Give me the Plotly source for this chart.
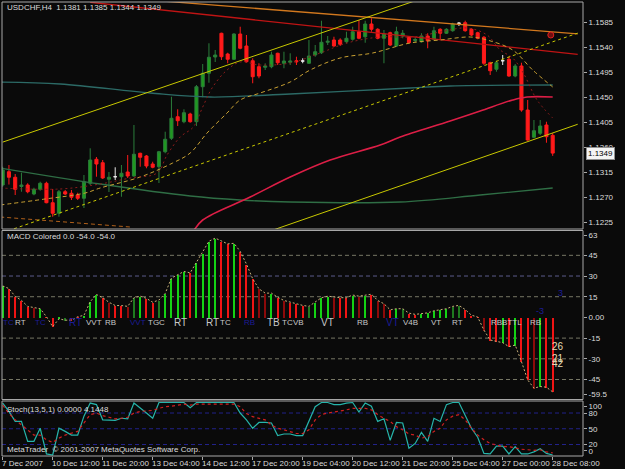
import plotly.graph_objects as go

# ---------------- data ----------------
symbol = "USDCHF,H4"
x_tick_labels = ["7 Dec 2007", "10 Dec 12:00", "11 Dec 20:00", "13 Dec 04:00", "14 Dec 12:00",
                 "17 Dec 20:00", "19 Dec 04:00", "20 Dec 12:00", "21 Dec 20:00", "25 Dec 04:00",
                 "27 Dec 00:00", "28 Dec 08:00"]
bars_per_label = 8

open_ = [1.12916, 1.13155, 1.13055, 1.12889, 1.12916, 1.12754, 1.12839, 1.12947, 1.12597, 1.12407,
         1.12795, 1.12767, 1.12736, 1.12677, 1.12947, 1.13379, 1.13317, 1.13019, 1.13065, 1.13065,
         1.13150, 1.13078, 1.13487, 1.13438, 1.13294, 1.13245, 1.13515, 1.13757, 1.14145, 1.14055,
         1.14194, 1.14055, 1.14685, 1.14927, 1.15220, 1.15647, 1.15274, 1.15179, 1.15634, 1.15418,
         1.15153, 1.15045, 1.15035, 1.15045, 1.15287, 1.15107, 1.15125, 1.15153, 1.15148, 1.15107,
         1.15256, 1.15297, 1.15485, 1.15526, 1.15526, 1.15495, 1.15539, 1.15675, 1.15585, 1.15814,
         1.15719, 1.15557, 1.15657, 1.15418, 1.15598, 1.15585, 1.15517, 1.15495, 1.15598, 1.15539,
         1.15719, 1.15647, 1.15693, 1.15827, 1.15837, 1.15719, 1.15657, 1.15575, 1.15117, 1.14999,
         1.15153, 1.15179, 1.14878, 1.15058, 1.14266, 1.13775, 1.13847, 1.13996, 1.1381]
high_ = [1.13245, 1.13276, 1.13114, 1.13137, 1.12947, 1.12867, 1.12975, 1.12975, 1.12844, 1.12826,
         1.12826, 1.12826, 1.12777, 1.13096, 1.13577, 1.13420, 1.13366, 1.13150, 1.13235, 1.13276,
         1.13456, 1.13996, 1.13497, 1.13456, 1.13335, 1.13530, 1.13875, 1.14505, 1.14279, 1.14279,
         1.14217, 1.14716, 1.15094, 1.15467, 1.15346, 1.15657, 1.15297, 1.15647, 1.15765, 1.15616,
         1.15197, 1.15107, 1.15107, 1.15315, 1.15297, 1.15315, 1.15287, 1.15225, 1.15197, 1.15526,
         1.15436, 1.15873, 1.15598, 1.15585, 1.15557, 1.15675, 1.15765, 1.15886, 1.15873, 1.15917,
         1.15737, 1.15706, 1.15675, 1.15765, 1.15706, 1.15598, 1.15574, 1.15647, 1.15647, 1.15765,
         1.15737, 1.15737, 1.15837, 1.15850, 1.15873, 1.15737, 1.15675, 1.15598, 1.15135, 1.15153,
         1.15256, 1.15225, 1.15094, 1.15117, 1.14446, 1.14086, 1.14086, 1.14055, 1.1385]
low_ = [1.12885, 1.12924, 1.12736, 1.12795, 1.12767, 1.12731, 1.12813, 1.12587, 1.12345, 1.12345,
        1.12736, 1.12646, 1.12646, 1.12502, 1.12916, 1.13065, 1.13024, 1.12790, 1.13006, 1.12705,
        1.13042, 1.13065, 1.13245, 1.13217, 1.13217, 1.12952, 1.13487, 1.13726, 1.13978, 1.14027,
        1.14037, 1.13978, 1.14495, 1.14757, 1.15130, 1.15166, 1.15107, 1.15166, 1.15359, 1.15117,
        1.14747, 1.14837, 1.14986, 1.15017, 1.15076, 1.15017, 1.15076, 1.15076, 1.15107, 1.15094,
        1.15225, 1.15274, 1.15436, 1.15405, 1.15418, 1.15467, 1.15513, 1.15539, 1.15477, 1.15675,
        1.15539, 1.15107, 1.15418, 1.15405, 1.15557, 1.15467, 1.15477, 1.15477, 1.15377, 1.15526,
        1.15526, 1.15634, 1.15675, 1.15778, 1.15675, 1.15598, 1.15539, 1.15076, 1.14896, 1.14955,
        1.15076, 1.14865, 1.14855, 1.14235, 1.13713, 1.13757, 1.13816, 1.13677, 1.1344]
close_ = [1.13186, 1.13055, 1.12838, 1.12916, 1.12795, 1.12839, 1.12947, 1.12597, 1.12407, 1.12795,
          1.12754, 1.12695, 1.12677, 1.12975, 1.13366, 1.13294, 1.13042, 1.13055, 1.13065, 1.13127,
          1.13078, 1.13469, 1.13415, 1.13258, 1.13235, 1.13515, 1.13739, 1.14117, 1.14073, 1.14217,
          1.14055, 1.14685, 1.14927, 1.15215, 1.15256, 1.15225, 1.15179, 1.15634, 1.15377, 1.15135,
          1.14865, 1.14878, 1.15058, 1.15256, 1.15117, 1.15148, 1.15148, 1.15135, 1.15148, 1.15238,
          1.15315, 1.15485, 1.15503, 1.15418, 1.15449, 1.15557, 1.15675, 1.15557, 1.15814, 1.15719,
          1.15557, 1.15634, 1.15436, 1.15675, 1.15647, 1.15477, 1.15535, 1.15598, 1.15513, 1.15693,
          1.15647, 1.15719, 1.15814, 1.15827, 1.15693, 1.15616, 1.15557, 1.15107, 1.14973, 1.15117,
          1.15153, 1.14878, 1.15058, 1.14266, 1.13726, 1.13893, 1.13978, 1.13785, 1.1349]

# indicator lines on the price chart: (bar index, price) control points
chan_upper_bar = [0, 92];      chan_upper_px = [1.13688, 1.17234]
chan_mid_bar = [0, 92];        chan_mid_px = [1.12057, 1.15650]
chan_lower_bar = [40, 92];     chan_lower_px = [1.11978, 1.14009]
orange_tl_bar = [20, 92];      orange_tl_px = [1.16277, 1.15638]
red_tl_bar = [14, 92];         red_tl_px = [1.16205, 1.15267]
teal_ma_bar = [-0.4, 9.2, 23.6, 33.2, 46, 65.2, 71.6, 88]
teal_ma_px = [1.14770, 1.14734, 1.14572, 1.14500, 1.14554, 1.14662, 1.14698, 1.14716]
green_ma_bar = [-0.4, 15.6, 30, 38, 46, 63.6, 76.4, 88]
green_ma_px = [1.13222, 1.12934, 1.12718, 1.12646, 1.12610, 1.12610, 1.12736, 1.12862]
crimson_ma_bar = [30.5, 32, 39.6, 46, 52.4, 60.4, 63.6, 71.6, 76.4, 81.6, 83.9, 88]
crimson_ma_px = [1.12080, 1.12286, 1.12700, 1.13060, 1.13366, 1.13636, 1.13780, 1.14068,
                 1.14248, 1.14446, 1.14500, 1.14500]
gold_ma_bar = [-0.4, 6.8, 13.2, 15.6, 22, 27.2, 30, 32.7, 35.9, 38, 41.2, 46, 49.2, 54, 59.2,
               65.2, 70, 74.8, 77.5, 81.6, 84.8, 88]
gold_ma_px = [1.12556, 1.12664, 1.12772, 1.12862, 1.13060, 1.13312, 1.13492, 1.13852, 1.14212,
              1.14446, 1.14572, 1.14770, 1.14986, 1.15202, 1.15292, 1.15472, 1.15526, 1.15580,
              1.15526, 1.15346, 1.14986, 1.14680]
fast_ma_bar = [-0.4, 9.2, 15.6, 20.4, 24.7, 26.3, 28.4, 30.5, 32.0, 33.6, 35.9, 38.0, 41.2, 46.0,
               50.8, 55.1, 60.4, 65.6, 70.0, 74.3, 77.5, 79.6, 81.6, 83.3, 85.5, 88.0]
fast_ma_px = [1.12862, 1.12844, 1.12934, 1.13042, 1.13132, 1.13456, 1.13780, 1.13960, 1.14320,
              1.14680, 1.14986, 1.15130, 1.15076, 1.15112, 1.15292, 1.15472, 1.15580, 1.15580,
              1.15670, 1.15742, 1.15616, 1.15346, 1.15202, 1.14932, 1.14446, 1.14122]
slow_ma_bar = [-0.4, 20.4]
slow_ma_px = [1.12340, 1.12160]
alert_bar = [87.7]
alert_px = [1.15616]

price_tick0, price_dtick, price_nticks = 1.1225, 0.0045, 9

# MACD Colored
macd_hist = [22.8, 20.9, 15.2, 12.4, 8.0, 6.9, 6.3, 0.5, -6.7, -1.0,
             -2.0, -2.0, 0.5, 1.5, 11.4, 16.6, 14.3, 11.0, 8.6, 8.6,
             8.0, 14.3, 15.4, 13.8, 11.0, 12.6, 17.4, 28.5, 30.9, 33.3,
             32.3, 39.9, 46.6, 55.2, 57.5, 55.2, 53.3, 53.7, 47.9, 38.7,
             28.0, 20.7, 17.6, 17.6, 14.6, 12.3, 11.0, 9.9, 8.7, 8.0,
             11.0, 14.3, 15.4, 14.6, 14.3, 14.3, 16.2, 15.4, 16.2, 16.8,
             12.3, 9.9, 5.5, 6.3, 6.3, 3.1, 2.2, 2.9, 3.3, 4.8,
             5.7, 6.3, 8.0, 8.7, 5.7, 1.6, 0.3, -9.2, -16.4, -17.6,
             -18.3, -21.2, -20.0, -32.0, -45.3, -51.3, -50.1, -50.6, -54.0]
macd_state = list("UDDDDdUDDU" "uDDUUUDdDD" "duUDDuUUUU" "DUUUUDDUDD" "DddUDdDDDu"
                  "UUUdDDUdUD" "ddDUuDDUUU" "UUuuDDDdDD" "UDUDDdUDD")
macd_ticks = [63, 45, 30, 15, 0, -15, -30, -45, -59.5]
macd_tick_text = ["63", "45", "30", "15", "0.00", "-15", "-30", "-45", "-59.5"]
macd_levels = [45, 30, 15, -15, -30, -45]
macd_marks_text = ["TC", "RT", "TC", "RT", "VVT", "RB", "VVT", "TGC", "RT", "RT", "TC", "RB",
                   "TB", "TC", "VB", "VT", "RB", "VT", "V4B", "VT", "RT", "RBBTTL", "RB"]
macd_marks_bar = [0.9, 2.8, 6.0, 11.6, 14.6, 17.3, 21.6, 24.6, 28.4, 33.6, 35.6, 39.5,
                  43.4, 45.6, 47.4, 52.0, 57.5, 62.4, 65.3, 69.4, 72.8, 80.6, 85.3]
macd_marks_kind = ["b", "w", "b", "B", "w", "w", "b", "w", "W", "W", "w", "b",
                   "W", "w", "w", "W", "w", "B", "w", "w", "w", "w", "w"]
count_text = ["26", "21", "42"]
count_bar = [88.9, 88.9, 88.9]
count_val = [-21.2, -29.6, -33.7]
blue_text = ["3", "-3"]
blue_bar = [89.2, 86.0]
blue_val = [17.5, 4.6]

# Stochastic(13,5,1)
stoch_main = [99, 83, 64, 64, 26, 26, 51, 2, 0, 51,
              45, 38, 38, 74, 99, 96, 67, 66, 66, 70,
              69, 99, 90, 80, 70, 100, 100, 100, 100, 100,
              90, 100, 100, 100, 100, 100, 100, 100, 80, 67,
              51, 62, 62, 61, 37, 40, 40, 37, 37, 64,
              92, 100, 100, 96, 96, 99, 100, 82, 99, 93,
              64, 69, 28, 62, 61, 13, 22, 43, 26, 70,
              64, 96, 100, 100, 74, 51, 34, 3, 2, 17,
              17, 2, 16, 2, 2, 6, 12, 3, 0.0]
stoch_signal = [95, 79, 67, 57, 48, 38, 38, 29, 24, 32,
                38, 41, 45, 61, 77, 80, 75, 72, 69, 70,
                72, 80, 83, 84, 85, 89, 92, 93, 95, 97,
                95, 97, 97, 97, 97, 97, 97, 97, 92, 79,
                73, 70, 67, 57, 51, 48, 45, 41, 41, 48,
                67, 77, 80, 82, 83, 86, 89, 89, 89, 86,
                77, 70, 64, 54, 48, 40, 38, 32, 35, 45,
                51, 67, 74, 77, 67, 51, 38, 29, 22, 19,
                16, 16, 13, 11, 10, 9, 10, 6, 4.1448]
stoch_ticks = [100, 80, 50, 20, 0]
stoch_levels = [80, 50, 20]

# ---------------- layout geometry ----------------
W, H = 625, 469
BG = "#0a0a0a"
FRAME = "#a8a8a8"
TXT = "#dcdcdc"
FONT = "Liberation Sans"


def pxx(p):
    return p / W


def pxy(p):
    return 1 - p / H


XD = [pxx(2), pxx(583)]
main_px = (2, 229)
macd_px = (230.5, 399.5)
stoch_px = (401, 456)
x_range = [-0.112, 92.85]
price_range = [1.12124, 1.16210]
macd_range = [-59.5, 63]
stoch_range = [-1.9, 102.9]


def bar_to_paper(b):
    return XD[0] + (b - x_range[0]) / (x_range[1] - x_range[0]) * (XD[1] - XD[0])


def clamp(v, lo, hi):
    return max(lo, min(hi, v))


fig = go.Figure()
n = len(close_)
idx = list(range(n))
doji = [i for i in idx if abs(open_[i] - close_[i]) < 1e-9]
body = [i for i in idx if i not in doji]


def pick(arr, ids):
    return [arr[i] for i in ids]


fig.add_trace(go.Candlestick(
    x=body, open=pick(open_, body), high=pick(high_, body), low=pick(low_, body),
    close=pick(close_, body), xaxis="x", yaxis="y", whiskerwidth=0,
    increasing=dict(line=dict(color="#2b7d3b", width=1), fillcolor="#1f9a1f"),
    decreasing=dict(line=dict(color="#ff1a1a", width=1), fillcolor="#ff1a1a")))
fig.add_trace(go.Candlestick(
    x=doji, open=pick(open_, doji), high=pick(high_, doji), low=pick(low_, doji),
    close=pick(close_, doji), xaxis="x", yaxis="y", whiskerwidth=0,
    increasing=dict(line=dict(color="#e8e8e8", width=1), fillcolor="#e8e8e8"),
    decreasing=dict(line=dict(color="#e8e8e8", width=1), fillcolor="#e8e8e8")))


def add_line(bx, py, color, width=1.0, dash="solid", shape="linear"):
    fig.add_trace(go.Scatter(x=bx, y=py, mode="lines", xaxis="x", yaxis="y",
                             line=dict(color=color, width=width, dash=dash, shape=shape)))


add_line(slow_ma_bar, slow_ma_px, "#b0601a", 1, "4px,3px")
add_line(green_ma_bar, green_ma_px, "#2f6e45", 1.3, shape="spline")
add_line(teal_ma_bar, teal_ma_px, "#2c6a66", 1.3, shape="spline")
add_line(crimson_ma_bar, crimson_ma_px, "#dc1e46", 1.6, shape="spline")
add_line(red_tl_bar, red_tl_px, "#c01414", 1.3)
add_line(orange_tl_bar, orange_tl_px, "#d2781e", 1.3)
add_line(chan_upper_bar, chan_upper_px, "#c8c800", 1)
add_line(chan_lower_bar, chan_lower_px, "#c8c800", 1)
add_line(chan_mid_bar, chan_mid_px, "#c8c800", 1, "3px,3px")
add_line(gold_ma_bar, gold_ma_px, "#c8a032", 1, "4px,3px", "spline")
add_line(fast_ma_bar, fast_ma_px, "#8c1c1c", 1, "2px,3px", "spline")
fig.add_trace(go.Scatter(x=alert_bar, y=alert_px, mode="markers", xaxis="x", yaxis="y",
                         marker=dict(symbol="circle", size=6, color="#701010",
                                     line=dict(color="#e02020", width=1))))

# MACD
state_color = {"U": "#14d214", "u": "#1f7a1f", "D": "#f01414", "d": "#8c0a0a"}
fig.add_trace(go.Bar(x=idx, y=macd_hist, xaxis="x", yaxis="y2", width=0.2,
                     marker=dict(color=[state_color[s] for s in macd_state], line=dict(width=0))))
fig.add_trace(go.Scatter(x=idx, y=macd_hist, mode="lines", xaxis="x", yaxis="y2",
                         line=dict(color="#c8b07a", width=1, dash="2px,2px")))

# Stochastic
fig.add_trace(go.Scatter(x=idx, y=stoch_main, mode="lines", xaxis="x", yaxis="y3",
                         line=dict(color="#26b4aa", width=1.2)))
fig.add_trace(go.Scatter(x=idx, y=stoch_signal, mode="lines", xaxis="x", yaxis="y3",
                         line=dict(color="#d02020", width=1.2, dash="3px,3px")))

shapes = []
for (a, b) in (main_px, macd_px, stoch_px):
    shapes.append(dict(type="rect", xref="paper", yref="paper", x0=XD[0], x1=XD[1],
                       y0=pxy(b), y1=pxy(a), line=dict(color=FRAME, width=1), layer="above"))
for lv in macd_levels:
    shapes.append(dict(type="line", xref="paper", yref="y2", x0=XD[0], x1=XD[1], y0=lv, y1=lv,
                       line=dict(color="#5c5c8c" if lv == 30 else "#767664", width=1, dash="4px,3px"),
                       layer="below"))
for lv in stoch_levels:
    shapes.append(dict(type="line", xref="paper", yref="y3", x0=XD[0], x1=XD[1], y0=lv, y1=lv,
                       line=dict(color="#22228a", width=1, dash="4px,3px"), layer="below"))

ann = []


def text(x, y, s, xref="paper", yref="paper", color=TXT, size=8, xanchor="left", **kw):
    ann.append(dict(x=x, y=y, xref=xref, yref=yref, text=s, showarrow=False, xanchor=xanchor,
                    yanchor="middle", font=dict(family=FONT, size=size, color=color), **kw))


text(pxx(5), pxy(8), f"{symbol}  {open_[-1]:.4f} {high_[-1]:.4f} {low_[-1]:.4f} {close_[-1]:.4f}")
text(pxx(5), pxy(237), f"MACD Colored 0.0 {macd_hist[-1]:.1f} {macd_hist[-1]:.1f}")
text(pxx(5), pxy(409), f"Stoch(13,5,1) {stoch_main[-1]:.4f} {stoch_signal[-1]:.4f}")
text(pxx(5), pxy(449), "MetaTrader  © 2001-2007 MetaQuotes Software Corp.")
text(pxx(586), close_[-1], f"{close_[-1]:.4f}", yref="y", color="#000000",
     bgcolor="#f4f4f4", bordercolor="#909090", borderwidth=1, borderpad=1)

for k, lab in enumerate(x_tick_labels):
    text(bar_to_paper(k * bars_per_label - 0.5), pxy(463), lab)

kind_style = {"w": ("#c8c8c8", 8), "W": ("#c8c8c8", 10), "b": ("#1c1c96", 8), "B": ("#1c1c96", 10)}
for s, bx, kd in zip(macd_marks_text, macd_marks_bar, macd_marks_kind):
    c, sz = kind_style[kd]
    text(bx, -3.8, s, xref="x", yref="y2", color=c, size=sz, xanchor="center")
for s, bx, v in zip(count_text, count_bar, count_val):
    text(bx, v, s, xref="x", yref="y2", color="#e6dcb4", size=10, xanchor="center")
for s, bx, v in zip(blue_text, blue_bar, blue_val):
    text(bx, v, s, xref="x", yref="y2", color="#1c1c96", size=9, xanchor="center")

axis_common = dict(showgrid=False, zeroline=False, showline=False, ticks="outside", ticklen=3,
                   tickcolor=FRAME, tickfont=dict(family=FONT, size=8, color=TXT), side="right",
                   anchor="x", fixedrange=True)

fig.update_layout(
    width=W, height=H, autosize=False, margin=dict(l=0, r=0, t=0, b=0),
    paper_bgcolor=BG, plot_bgcolor=BG, showlegend=False, hovermode=False, boxgap=0.3,
    bargap=0,
    xaxis=dict(domain=XD, range=x_range, anchor="y3", showgrid=False, zeroline=False,
               showline=False, showticklabels=False, ticks="outside", ticklen=3, tickcolor=FRAME,
               tickvals=[k * bars_per_label for k in range(len(x_tick_labels))],
               rangeslider=dict(visible=False), fixedrange=True),
    yaxis=dict(domain=[pxy(main_px[1]), pxy(main_px[0])], range=price_range, tickmode="linear",
               tick0=price_tick0, dtick=price_dtick, tickformat=".4f", **axis_common),
    yaxis2=dict(domain=[pxy(macd_px[1]), pxy(macd_px[0])], range=macd_range,
                tickvals=[clamp(v, macd_range[0] + 3.5, macd_range[1] - 3.5) for v in macd_ticks],
                ticktext=macd_tick_text, **axis_common),
    yaxis3=dict(domain=[pxy(stoch_px[1]), pxy(stoch_px[0])], range=stoch_range,
                tickvals=[clamp(v, stoch_range[0] + 10, stoch_range[1] - 10) for v in stoch_ticks],
                ticktext=[str(v) for v in stoch_ticks], **axis_common),
    shapes=shapes, annotations=ann,
)

fig.write_html("out.html")
